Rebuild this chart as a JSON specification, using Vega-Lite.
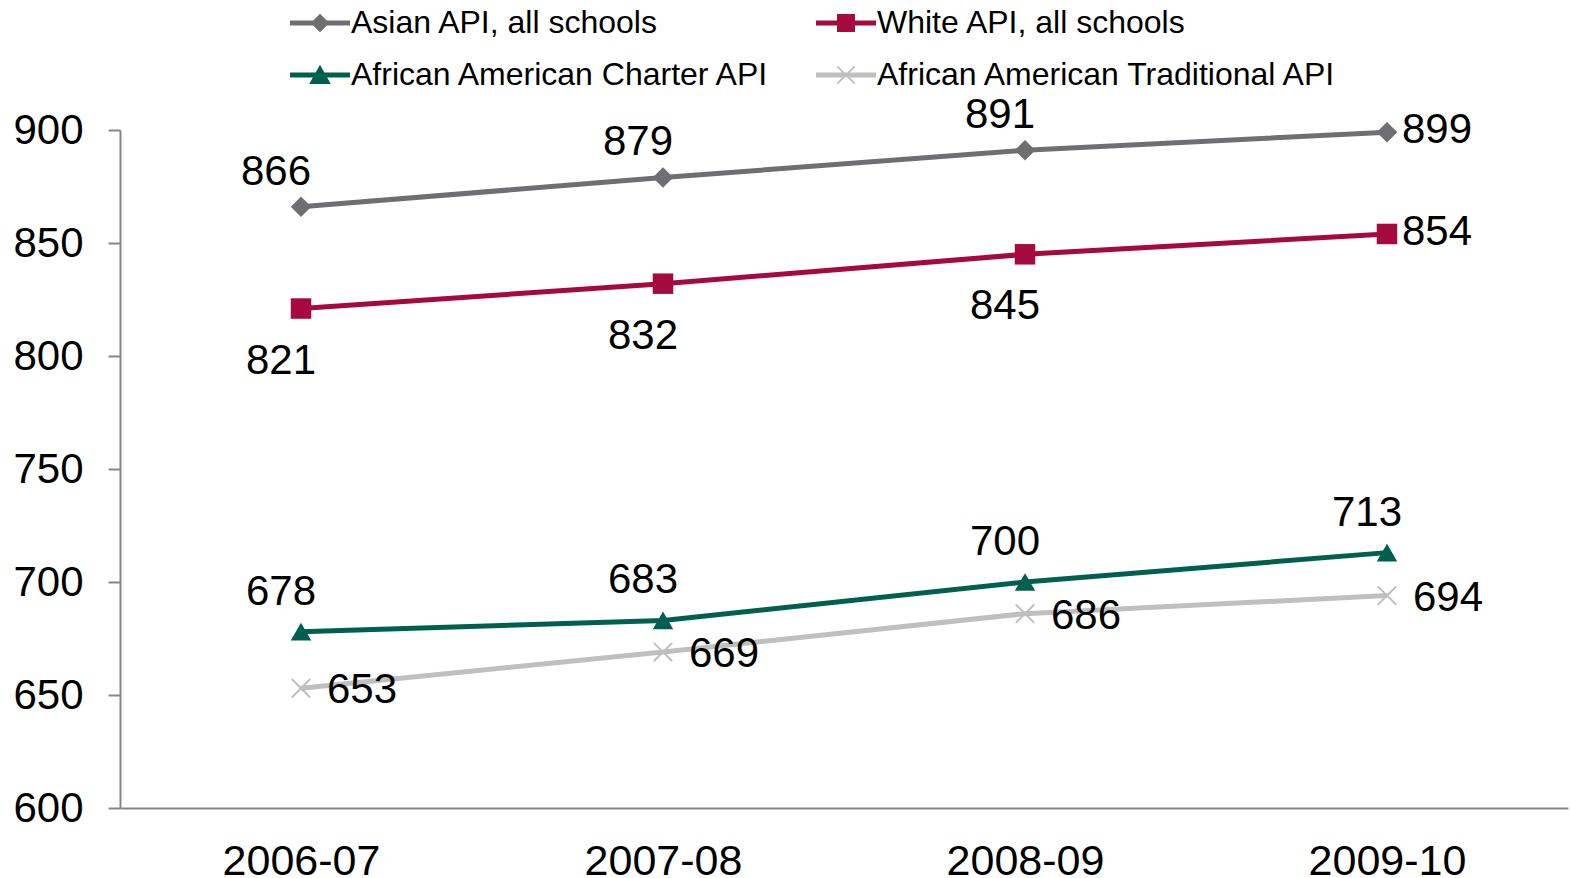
{
  "$schema": "https://vega.github.io/schema/vega-lite/v6.json",
  "autosize": "none",
  "width": 1448,
  "height": 678,
  "padding": {"left": 120, "top": 130, "right": 2, "bottom": 70},
  "config": {"view": {"stroke": null}, "font": "Liberation Sans"},
  "data": {"values": [
    {"year": "2006-07", "series": "Asian API, all schools", "api": 866},
    {"year": "2007-08", "series": "Asian API, all schools", "api": 879},
    {"year": "2008-09", "series": "Asian API, all schools", "api": 891},
    {"year": "2009-10", "series": "Asian API, all schools", "api": 899},
    {"year": "2006-07", "series": "White API, all schools", "api": 821},
    {"year": "2007-08", "series": "White API, all schools", "api": 832},
    {"year": "2008-09", "series": "White API, all schools", "api": 845},
    {"year": "2009-10", "series": "White API, all schools", "api": 854},
    {"year": "2006-07", "series": "African American Charter API", "api": 678},
    {"year": "2007-08", "series": "African American Charter API", "api": 683},
    {"year": "2008-09", "series": "African American Charter API", "api": 700},
    {"year": "2009-10", "series": "African American Charter API", "api": 713},
    {"year": "2006-07", "series": "African American Traditional API", "api": 653},
    {"year": "2007-08", "series": "African American Traditional API", "api": 669},
    {"year": "2008-09", "series": "African American Traditional API", "api": 686},
    {"year": "2009-10", "series": "African American Traditional API", "api": 694}
  ]},
  "encoding": {
    "x": {
      "field": "year", "type": "ordinal",
      "scale": {"type": "point", "padding": 0.5},
      "axis": {
        "title": null, "labelAngle": 0, "ticks": false,
        "domainColor": "#868686", "domainWidth": 2,
        "labelFontSize": 43, "labelColor": "#000000", "labelPadding": 32
      }
    },
    "y": {
      "field": "api", "type": "quantitative",
      "scale": {"domain": [600, 900], "nice": false, "zero": false},
      "axis": {
        "title": null, "values": [600, 650, 700, 750, 800, 850, 900],
        "grid": false, "tickSize": 12, "tickColor": "#868686", "tickWidth": 2,
        "domainColor": "#868686", "domainWidth": 2,
        "labelFontSize": 42, "labelColor": "#000000", "labelPadding": 25
      }
    },
    "color": {
      "field": "series", "type": "nominal",
      "scale": {
        "domain": ["Asian API, all schools", "White API, all schools", "African American Charter API", "African American Traditional API"],
        "range": ["#6E6E73", "#A6093D", "#00604F", "#BFBFBF"]
      },
      "legend": {
        "title": null, "orient": "none", "legendX": 170, "legendY": -137, "direction": "horizontal",
        "columns": 2, "columnPadding": 45, "rowPadding": 6, "padding": 0,
        "labelFontSize": 32, "labelColor": "#000000", "labelLimit": 700, "labelOffset": 1,
        "symbolSize": 3600, "symbolStrokeWidth": 0,
        "encode": {
          "symbols": {
            "update": {
              "shape": {"signal": "datum.value === 'Asian API, all schools' ? 'M-1,-0.08H1V0.08H-1Z M0,-0.31L0.31,0L0,0.31L-0.31,0Z' : datum.value === 'White API, all schools' ? 'M-1,-0.08H1V0.08H-1Z M-0.3,-0.3H0.3V0.3H-0.3Z' : datum.value === 'African American Charter API' ? 'M-1,-0.08H1V0.08H-1Z M0,-0.34L0.36,0.3H-0.36Z' : 'M-1,-0.08H1V0.08H-1Z M-0.31,-0.27L-0.27,-0.31L0.31,0.27L0.27,0.31Z M0.31,-0.27L-0.27,0.31L-0.31,0.27L0.27,-0.31Z'"},
              "fill": {"scale": "color", "field": "value"},
              "strokeWidth": {"value": 0},
              "opacity": {"value": 1}
            }
          }
        }
      }
    }
  },
  "layer": [
    {"mark": {"type": "line", "strokeWidth": 5}},
    {
      "transform": [{"filter": "datum.series !== 'African American Traditional API'"}],
      "mark": {"type": "point", "filled": true, "opacity": 1, "size": 420},
      "encoding": {
        "shape": {
          "field": "series", "type": "nominal",
          "scale": {"domain": ["Asian API, all schools", "White API, all schools", "African American Charter API"], "range": ["diamond", "square", "triangle-up"]},
          "legend": null
        }
      }
    },
    {
      "transform": [{"filter": "datum.series === 'African American Traditional API'"}],
      "mark": {"type": "point", "filled": false, "opacity": 1, "size": 340, "strokeWidth": 2, "shape": "M-1,-1L1,1M1,-1L-1,1"}
    },
    {
      "transform": [{"filter": "datum.series === 'Asian API, all schools' && datum.year !== '2009-10'"}],
      "mark": {"type": "text", "fontSize": 42, "baseline": "middle", "align": "center", "dx": -25, "dy": -35},
      "encoding": {"text": {"field": "api", "type": "quantitative"}, "color": {"value": "#000000"}}
    },
    {
      "transform": [{"filter": "datum.series === 'African American Charter API'"}],
      "mark": {"type": "text", "fontSize": 42, "baseline": "middle", "align": "center", "dx": -20, "dy": -40},
      "encoding": {"text": {"field": "api", "type": "quantitative"}, "color": {"value": "#000000"}}
    },
    {
      "transform": [{"filter": "datum.series === 'White API, all schools' && datum.year !== '2009-10'"}],
      "mark": {"type": "text", "fontSize": 42, "baseline": "middle", "align": "center", "dx": -20, "dy": 52},
      "encoding": {"text": {"field": "api", "type": "quantitative"}, "color": {"value": "#000000"}}
    },
    {
      "transform": [{"filter": "datum.year === '2009-10' && (datum.series === 'Asian API, all schools' || datum.series === 'White API, all schools')"}],
      "mark": {"type": "text", "fontSize": 42, "baseline": "middle", "align": "left", "dx": 15, "dy": -2},
      "encoding": {"text": {"field": "api", "type": "quantitative"}, "color": {"value": "#000000"}}
    },
    {
      "transform": [{"filter": "datum.series === 'African American Traditional API'"}],
      "mark": {"type": "text", "fontSize": 42, "baseline": "middle", "align": "left", "dx": 26, "dy": 2},
      "encoding": {"text": {"field": "api", "type": "quantitative"}, "color": {"value": "#000000"}}
    }
  ]
}
